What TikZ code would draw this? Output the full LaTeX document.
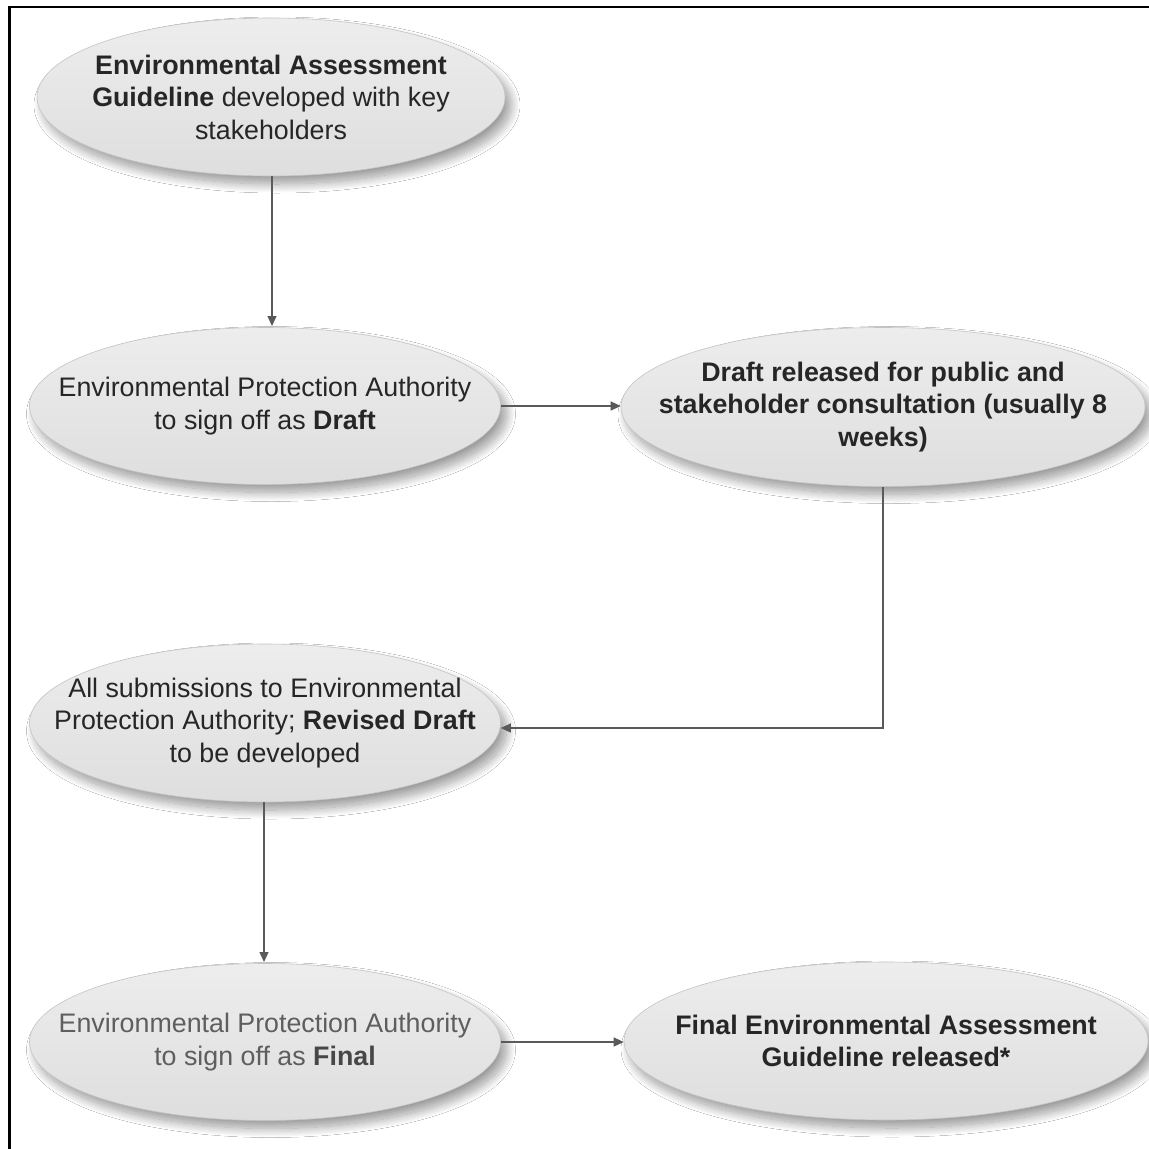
\documentclass[tikz,border=0pt]{standalone}
\usepackage{fontspec}
\setmainfont{Liberation Sans}
\usetikzlibrary{shapes.geometric,arrows.meta,shadows.blur}
\definecolor{txt}{HTML}{262626}
\definecolor{txtlight}{HTML}{5E5E5E}
\definecolor{edgec}{HTML}{C4C4C4}
\definecolor{arrc}{HTML}{5A5A5A}
\definecolor{topc}{HTML}{EDEDED}
\definecolor{midc}{HTML}{D8D8D8}
\definecolor{botc}{HTML}{DEDEDE}
\begin{document}
\begin{tikzpicture}[x=1pt,y=-1pt,
  bub/.style={ellipse, inner sep=0pt, draw=edgec, line width=0.6pt,
    top color=topc, middle color=midc, bottom color=botc,
    blur shadow={shadow xshift=6pt,shadow yshift=-8pt,shadow blur radius=9pt,shadow blur steps=20,shadow opacity=40}},
  lbl/.style={align=center, font=\fontsize{26.8}{32.5}\selectfont, text=txt, inner sep=0pt},
  arr/.style={draw=arrc, line width=1.3pt, -{Triangle[length=10pt,width=9pt]}},
  frame/.style={draw=black, line width=2.2pt}]
\fill[white] (0,0) rectangle (1149,1149);
\useasboundingbox (0,0) rectangle (1149,1149);
\coordinate (fa) at (9.5,1149);
\coordinate (fb) at (9.5,7);
\coordinate (fc) at (1149,7);
\draw[frame] (fa) -- (fb) -- (fc);

\node[bub, minimum width=468pt, minimum height=158pt] (n1) at (271,97) {};
\node[bub, minimum width=471pt, minimum height=157pt] (n2) at (265,406) {};
\node[bub, minimum width=524pt, minimum height=159pt] (n3) at (883,407) {};
\node[bub, minimum width=471pt, minimum height=158pt] (n4) at (265,723) {};
\node[bub, minimum width=471pt, minimum height=157pt] (n5) at (265,1042) {};
\node[bub, minimum width=524pt, minimum height=158pt] (n6) at (886,1041) {};

\node[lbl] (t1) at (n1) {\textbf{Environmental Assessment}\\\textbf{Guideline} developed with key\\stakeholders};
\node[lbl] (t2) at (n2) {Environmental Protection Authority\\to sign off as \textbf{Draft}};
\node[lbl] (t3) at (n3) {\textbf{Draft released for public and}\\\textbf{stakeholder consultation (usually 8}\\\textbf{weeks)}};
\node[lbl] (t4) at (n4) {All submissions to Environmental\\Protection Authority; \textbf{Revised Draft}\\to be developed};
\node[lbl, text=txtlight] (t5) at (n5) {Environmental Protection Authority\\to sign off as \textbf{\color{txt!85}Final}};
\node[lbl] (t6) at (n6) {\textbf{Final Environmental Assessment}\\\textbf{Guideline released*}};

\coordinate (c4) at ([yshift=-5pt]n4.east);
\draw[arr] (n1.south -| 272,0) -- (272,326);
\draw[arr] (n2.east) -- (n2.east -| n3.west);
\draw[arr] (n3.south) |- (c4);
\draw[arr] (n4.south -| 264,0) -- (264,962);
\draw[arr] (n5.east) -- (n5.east -| n6.west);
\end{tikzpicture}
\end{document}
